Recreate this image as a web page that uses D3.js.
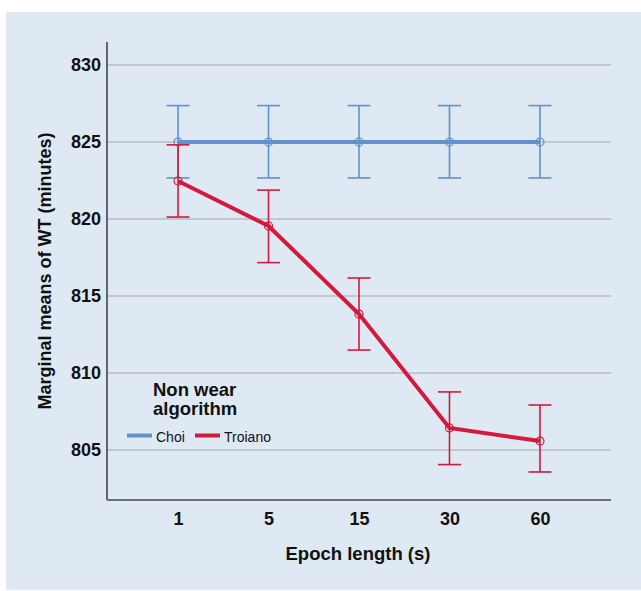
<!DOCTYPE html>
<html><head><meta charset="utf-8">
<script src="https://cdn.jsdelivr.net/npm/d3@7"></script>
<style>body{margin:0;background:#fff}svg{display:block}</style>
</head><body>
<script>
const categories = ["1","5","15","30","60"];
const yTicks = [805,810,815,820,825,830];
const choiMean = [825,825,825,825,825];
const choiLow  = [822.67,822.67,822.67,822.67,822.67];
const choiHigh = [827.37,827.37,827.37,827.37,827.37];
const troMean  = [822.47,819.55,813.83,806.43,805.58];
const troLow   = [820.13,817.17,811.49,804.05,803.57];
const troHigh  = [824.82,821.88,816.17,808.77,807.92];
const seriesNames = ["Choi","Troiano"];
const colors = {Choi:"#5e93cc", Troiano:"#d21a3e"};

(function(){
const W=641,H=591;
const svg=d3.select("body").append("svg").attr("width",W).attr("height",H);
svg.append("rect").attr("x",6).attr("y",12).attr("width",W-6).attr("height",578).attr("fill","#dfe9f3");

const pL=107,pR=611,pT=42,pB=500;
const x=d3.scalePoint().domain(categories).range([pL,pR]).padding(0.785);
const y=d3.scaleLinear().domain([801.75,831.5]).range([pB,pT]);
const FF="Liberation Sans, Arial, sans-serif";

// grid
svg.append("g").selectAll("line").data(yTicks).join("line")
 .attr("x1",pL).attr("x2",pR).attr("y1",d=>y(d)).attr("y2",d=>y(d))
 .attr("stroke","#b9bcbf").attr("stroke-width",1.5);

// axes
const ya=svg.append("g").attr("transform",`translate(${pL},0)`)
 .call(d3.axisLeft(y).tickValues(yTicks).tickSize(0).tickPadding(6));
ya.select(".domain").remove();
ya.selectAll("text").attr("font-family",FF).attr("font-weight","bold").attr("font-size",18).attr("fill","#111");
svg.append("line").attr("x1",pL).attr("x2",pL).attr("y1",pT).attr("y2",pB).attr("stroke","#111").attr("stroke-width",1.2);

const xa=svg.append("g").attr("transform",`translate(0,${pB})`)
 .call(d3.axisBottom(x).tickSize(0).tickPadding(12));
xa.select(".domain").remove();
xa.selectAll("text").attr("font-family",FF).attr("font-weight","bold").attr("font-size",18).attr("fill","#111");
svg.append("line").attr("x1",pL).attr("x2",pR).attr("y1",pB).attr("y2",pB).attr("stroke","#6c7178").attr("stroke-width",2);

// titles
svg.append("text").attr("x",358).attr("y",560).attr("text-anchor","middle")
 .attr("font-family",FF).attr("font-weight","bold").attr("font-size",18.5).attr("fill","#111")
 .text("Epoch length (s)");
svg.append("text").attr("transform","translate(51,271) rotate(-90)").attr("text-anchor","middle")
 .attr("font-family",FF).attr("font-weight","bold").attr("font-size",18).attr("fill","#111")
 .text("Marginal means of WT (minutes)");

function drawSeries(name, mean, lo, hi){
  const c=colors[name];
  const g=svg.append("g");
  const cap=11.5;
  categories.forEach((k,i)=>{
    const cx=x(k);
    g.append("line").attr("x1",cx).attr("x2",cx).attr("y1",y(lo[i])).attr("y2",y(hi[i])).attr("stroke",c).attr("stroke-width",1.6);
    g.append("line").attr("x1",cx-cap).attr("x2",cx+cap).attr("y1",y(lo[i])).attr("y2",y(lo[i])).attr("stroke",c).attr("stroke-width",1.6);
    g.append("line").attr("x1",cx-cap).attr("x2",cx+cap).attr("y1",y(hi[i])).attr("y2",y(hi[i])).attr("stroke",c).attr("stroke-width",1.6);
  });
  const line=d3.line().x((d,i)=>x(categories[i])).y(d=>y(d));
  g.append("path").datum(mean).attr("d",line).attr("fill","none").attr("stroke",c).attr("stroke-width",4);
  g.selectAll("circle").data(mean).join("circle").attr("cx",(d,i)=>x(categories[i])).attr("cy",d=>y(d)).attr("r",4)
   .attr("fill","none").attr("stroke",c).attr("stroke-width",1.2);
}
drawSeries("Choi",choiMean,choiLow,choiHigh);
drawSeries("Troiano",troMean,troLow,troHigh);

// legend
const lg=svg.append("g").attr("font-family",FF);
lg.append("text").attr("x",153).attr("y",396).attr("font-weight","bold").attr("font-size",18.5).attr("fill","#111").text("Non wear");
lg.append("text").attr("x",153).attr("y",415).attr("font-weight","bold").attr("font-size",18.5).attr("fill","#111").text("algorithm");
const items=[{n:"Choi",x:127},{n:"Troiano",x:195}];
items.forEach(it=>{
  lg.append("line").attr("x1",it.x).attr("x2",it.x+25).attr("y1",435.5).attr("y2",435.5).attr("stroke",colors[it.n]).attr("stroke-width",4);
  lg.append("text").attr("x",it.x+29).attr("y",442).attr("font-size",14).attr("fill","#111").text(it.n);
});
})();
</script>
</body></html>
